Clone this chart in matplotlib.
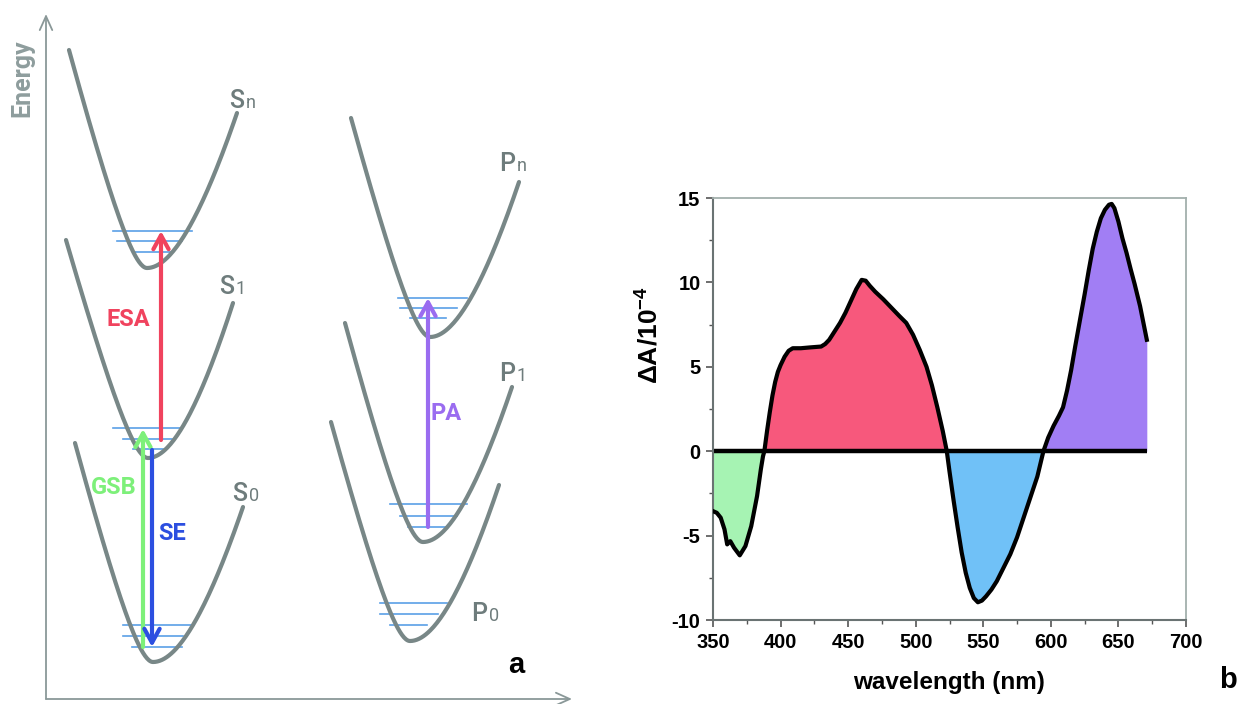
import numpy as np
import matplotlib
matplotlib.use("Agg")
import matplotlib.pyplot as plt
from matplotlib.ticker import MultipleLocator

plt.rcParams['axes.unicode_minus'] = False
plt.rcParams['mathtext.fontset'] = 'custom'
plt.rcParams['mathtext.rm'] = 'Liberation Sans:bold'
plt.rcParams['mathtext.it'] = 'Liberation Sans:bold'
plt.rcParams['mathtext.bf'] = 'Liberation Sans:bold'

# ---------------- Panel b data: transient absorption spectrum ----------------
wavelength = [350, 352.8, 355.7, 358.5, 360.5, 362.8, 365.6, 369.8, 374, 378.3, 382.6, 385.4, 387,
              388, 390, 392, 394, 396, 398, 400, 403, 406, 409, 415, 422, 430, 433, 436, 440,
              444, 448, 452, 456, 460, 463, 466, 470, 476, 482, 488, 493, 498, 503, 508, 512,
              516, 520, 523, 525, 528, 531, 534, 537, 540, 543, 546, 549, 552, 556, 560, 565,
              570, 575, 580, 585, 590, 594.5, 598, 602, 606, 609, 612, 615, 618, 621.6, 625,
              628, 631, 634, 637, 640, 643, 645, 647, 650, 653, 656, 659, 662, 666, 669, 671]
delta_a = [-3.55, -3.65, -3.94, -4.63, -5.52, -5.33, -5.72, -6.17, -5.62, -4.44, -2.66, -1.08, -0.3,
           0.0, 1.2, 2.3, 3.3, 4.1, 4.7, 5.1, 5.6, 5.95, 6.1, 6.1, 6.15, 6.2, 6.35, 6.6, 7.1,
           7.6, 8.2, 8.9, 9.6, 10.15, 10.1, 9.8, 9.45, 9.0, 8.5, 8.0, 7.6, 6.9, 6.0, 5.0, 3.9,
           2.6, 1.2, 0.0, -1.2, -2.9, -4.5, -6.0, -7.2, -8.1, -8.7, -8.95, -8.85, -8.6, -8.2, -7.7, -6.9,
           -6.1, -5.1, -3.9, -2.7, -1.5, 0.0, 0.8, 1.5, 2.1, 2.6, 3.6, 4.8, 6.2, 7.8, 9.3,
           10.7, 12.0, 13.0, 13.8, 14.3, 14.6, 14.65, 14.4, 13.6, 12.6, 11.75, 10.8, 9.9, 8.6, 7.4, 6.6]
band_edges = [350, 388, 523, 594.5, 671]
band_colors = ['#A6F3B3', '#F7587C', '#70C1F7', '#A17EF4']
x_ticks = [350, 400, 450, 500, 550, 600, 650, 700]
y_ticks = [-10, -5, 0, 5, 10, 15]

# ---------------- Panel a data: potential-energy schematic (pixel space) ----------------
state_names = [('S', 'n'), ('S', '1'), ('S', '0'), ('P', 'n'), ('P', '1'), ('P', '0')]
curve_left = [(69, 50), (66, 240), (75, 443), (351, 118), (345, 323), (331, 422)]
curve_min = [(147, 268), (148, 458), (153, 662), (430, 337), (423, 542), (410, 641)]
curve_right = [(237, 113), (233, 303), (243, 507), (519, 182), (512, 387), (499, 485)]
label_pos = [(229, 108), (219, 294), (232, 501), (499, 171), (499, 381), (471, 621)]
levels = [
    [(113, 192, 231), (117, 182, 241), (133, 172, 252)],
    [(113, 182, 428), (123, 172, 439), (133, 163, 449)],
    [(123, 192, 625), (123, 183, 636), (132, 182, 647)],
    [(398, 467, 298), (400, 457, 308), (410, 446, 318)],
    [(390, 467, 504), (400, 457, 516), (408, 446, 527)],
    [(380, 447, 603), (380, 438, 614), (390, 427, 625)],
]
transitions = ['ESA', 'GSB', 'SE', 'PA']
trans_x = [161, 143, 152, 428]
trans_from = [440, 647, 450, 527]
trans_to = [231, 429, 647, 298]
trans_colors = ['#F0435E', '#7DF07A', '#2C4FE0', '#9A6CF0']
trans_label_pos = [(128, 320), (114, 487), (172, 533), (446, 413)]

fig = plt.figure(figsize=(12.38, 7.04), dpi=100)
renderer = fig.canvas.get_renderer()

# ---------------- Panel a ----------------
ax_a = fig.add_axes([0, 0, 1, 1])
ax_a.set_xlim(0, 1238)
ax_a.set_ylim(704, 0)
ax_a.axis('off')

axis_col = '#8A9898'
curve_col = '#788787'
label_col = '#6E7C7C'
level_col = '#5AA0E6'
schem_font = 'Roboto'

ax_a.annotate('', xy=(46, 14), xytext=(46, 699),
              arrowprops=dict(arrowstyle='->,head_length=1.0,head_width=0.45', lw=1.3,
                              color=axis_col, shrinkA=0, shrinkB=0))
ax_a.annotate('', xy=(572, 699), xytext=(46, 699),
              arrowprops=dict(arrowstyle='->,head_length=1.0,head_width=0.45', lw=1.3,
                              color=axis_col, shrinkA=0, shrinkB=0))
ax_a.text(22, 78, 'Energy', rotation=90, ha='center', va='center', fontsize=18,
          family=schem_font, fontweight='bold', color='#8E9D9D')


def branch(xm, ym, xe, ye, b):
    dx = xe - xm
    h = ym - ye
    a = h * (1 + b * abs(dx)) / dx ** 2
    xs = np.linspace(xm, xe, 80)
    d = xs - xm
    return xs, ym - a * d ** 2 / (1 + b * np.abs(d))


for (xl, yl), (xm, ym), (xr, yr) in zip(curve_left, curve_min, curve_right):
    x1, y1 = branch(xm, ym, xl, yl, 0.03)
    x2, y2 = branch(xm, ym, xr, yr, 0.005)
    xs = np.concatenate([x1[::-1], x2[1:]])
    ys = np.concatenate([y1[::-1], y2[1:]])
    ax_a.plot(xs, ys, color=curve_col, lw=3.0, solid_capstyle='round', zorder=3)

for lv in levels:
    for x0, x1, y in lv:
        ax_a.plot([x0, x1], [y, y], color=level_col, lw=1.2, zorder=2)

for (main, sub), (lx, ly) in zip(state_names, label_pos):
    t = ax_a.text(lx, ly, main, ha='left', va='baseline', fontsize=18, family=schem_font,
                  fontweight='medium', color=label_col)
    w = t.get_window_extent(renderer).width
    ax_a.text(lx + w + 1.5, ly, sub, ha='left', va='baseline', fontsize=13,
              family=schem_font, color=label_col)

for name, x, y0, y1, col, (tx, ty) in zip(transitions, trans_x, trans_from, trans_to,
                                          trans_colors, trans_label_pos):
    ax_a.annotate('', xy=(x, y1), xytext=(x, y0),
                  arrowprops=dict(arrowstyle='->,head_length=1.0,head_width=0.55', lw=3,
                                  color=col, shrinkA=0, shrinkB=0), zorder=4)
    ax_a.text(tx, ty, name, ha='center', va='center', fontsize=17, family=schem_font,
              fontweight='bold', color=col)

ax_a.text(516, 665, 'a', ha='center', va='center', fontsize=21, family='Liberation Sans',
          fontweight='bold', color='black')
ax_a.text(1228, 680, 'b', ha='center', va='center', fontsize=21, family='Liberation Sans',
          fontweight='bold', color='black')

# ---------------- Panel b ----------------
ax_b = fig.add_axes([713 / 1238, (704 - 620) / 704, 473 / 1238, (620 - 198) / 704])
wl = np.array(wavelength)
da = np.array(delta_a)
for lo, hi, col in zip(band_edges[:-1], band_edges[1:], band_colors):
    m = (wl >= lo) & (wl <= hi)
    ax_b.fill_between(wl[m], da[m], 0, color=col, lw=0, zorder=1)
ax_b.plot([band_edges[0], band_edges[-1]], [0, 0], color='black', lw=3.2, zorder=2,
          solid_capstyle='butt')
ax_b.plot(wl, da, color='black', lw=3.0, zorder=3, solid_joinstyle='round')

ax_b.set_xlim(350, 700)
ax_b.set_ylim(-10, 15)
ax_b.set_xticks(x_ticks)
ax_b.set_yticks(y_ticks)
ax_b.xaxis.set_minor_locator(MultipleLocator(25))
ax_b.yaxis.set_minor_locator(MultipleLocator(2.5))
ax_b.tick_params(which='major', direction='out', length=5, width=1.2, color='#555555',
                 labelsize=14.5, pad=4)
ax_b.tick_params(which='minor', direction='out', length=3, width=1.0, color='#555555')
for lab in ax_b.get_xticklabels() + ax_b.get_yticklabels():
    lab.set_fontweight('bold')
    lab.set_family('Liberation Sans')
for s in ['left', 'bottom']:
    ax_b.spines[s].set_color('#6A7373')
    ax_b.spines[s].set_linewidth(1.5)
for s in ['top', 'right']:
    ax_b.spines[s].set_color('#A3B0AD')
    ax_b.spines[s].set_linewidth(1.3)

ax_b.set_xlabel('wavelength (nm)', fontsize=17.5, fontweight='bold', family='Liberation Sans',
                labelpad=14)
ax_b.set_ylabel(r'$\mathrm{ΔA/10}^{-4}$', fontsize=19, family='Liberation Sans')
ax_b.yaxis.set_label_coords(-0.105, 0.675)

fig.savefig('out.png', dpi=100)
